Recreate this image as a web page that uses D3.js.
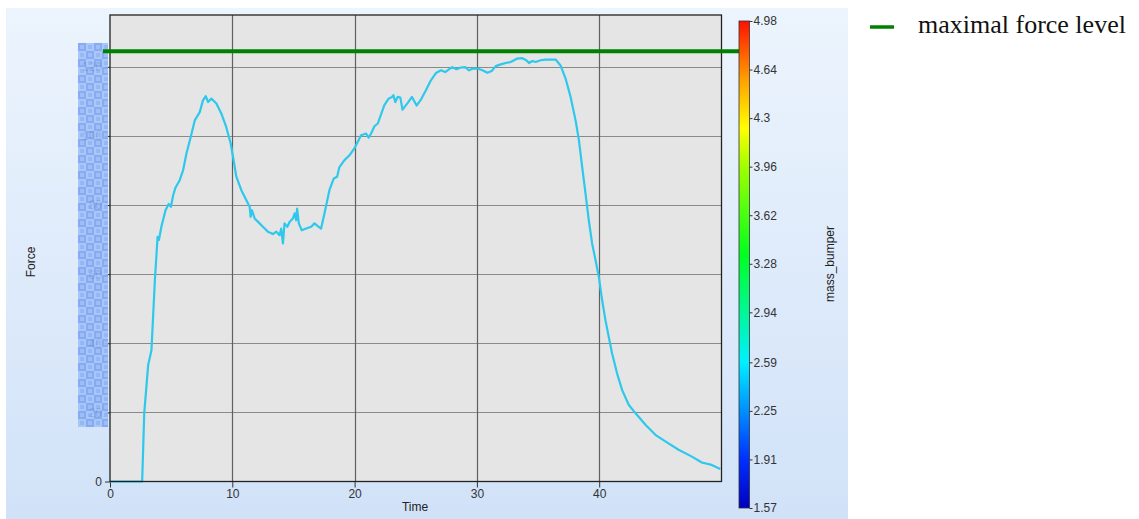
<!DOCTYPE html>
<html><head><meta charset="utf-8">
<script src="https://cdn.jsdelivr.net/npm/d3@7/dist/d3.min.js"></script>
<style>body{margin:0;background:#fff;}svg{display:block;}</style>
</head><body>
<svg id="c" width="1139" height="519"></svg>
<script>
const timeVals = [0,2.63,2.8,3.12,3.39,3.67,3.89,4.0,4.2,4.54,4.8,4.98,5.17,5.36,5.7,5.98,6.25,6.6,6.93,7.34,7.6,7.83,8.02,8.29,8.7,9.1,9.5,9.87,10.06,10.33,10.74,11.15,11.42,11.5,11.61,11.83,12.23,12.5,12.91,13.32,13.6,13.87,14.0,14.14,14.27,14.5,14.68,14.95,15.1,15.22,15.3,15.44,15.68,16.04,16.45,16.72,16.99,17.26,17.54,17.94,18.3,18.57,18.76,19.17,19.58,19.98,20.53,20.94,21.15,21.35,21.62,21.9,22.43,22.78,23.06,23.17,23.33,23.52,23.74,23.92,24.33,24.69,25.07,25.42,25.83,26.24,26.65,27.06,27.41,27.79,28.0,28.33,28.69,29.04,29.36,29.69,30.04,30.45,30.86,31.21,31.54,31.95,32.36,32.77,33.04,33.31,33.71,34.04,34.26,34.53,34.8,35.21,35.62,36.03,36.44,36.84,37.25,37.66,38.07,38.34,38.61,38.88,39.15,39.42,39.7,39.97,40.24,40.51,40.78,41.05,41.46,41.87,42.41,42.96,43.78,44.59,45.41,46.49,47.58,48.39,49.2,49.9];
const forceVals = [0,0,19.8,33.7,38,58.3,70.8,69.9,73.7,78.5,80.3,79.5,82.9,85.1,87.2,90.1,94.9,99.7,104.5,106.9,110.3,111.5,109.8,110.8,109.4,106.5,102.6,97.8,93.9,88.2,84.3,81.4,79.5,76.6,78.5,76.1,74.7,73.7,72.3,71.6,72.3,71.3,73.2,68.9,74.7,73.7,75.1,76.1,77.6,75.6,79,74.7,72.7,73.2,73.7,74.7,73.9,73.2,77.6,84.3,87.7,88.2,91,93,94.4,96.4,100.2,100.7,99.5,100.7,102.8,103.6,108.9,110.8,111.3,111.8,109.8,111.3,111.1,107.6,109.5,111.3,108.8,110.5,113.2,116.1,118.2,119,118.5,119.5,119.9,119.3,119.8,119.9,119,119.5,119.5,119,118.3,118.8,120.2,120.7,121.1,121.4,121.9,122.4,122.5,121.9,121.1,121.7,121.4,121.9,122.1,122.1,122.1,120.4,116.6,111.3,104.5,98.8,91,83.4,75.6,68.9,64.1,59.2,52.5,46.7,41.9,37.1,31.3,26.5,22.2,19.8,16.4,13.5,11.6,9.2,7.2,5.5,4.8,3.6];
const maxForce = 124.5;
const xTicks = [0,10,20,30,40];
const yTicks = [0,20,40,60,80,100,120];
const cbTicks = ["4.98","4.64","4.3","3.96","3.62","3.28","2.94","2.59","2.25","1.91","1.57"];
const cbRange = [1.57,4.98];
const legendLabel = "maximal force level";

const svg = d3.select("#c");
const defs = svg.append("defs");
const bg = defs.append("linearGradient").attr("id","bg").attr("x1",0).attr("y1",0).attr("x2",0).attr("y2",1);
bg.append("stop").attr("offset","0%").attr("stop-color","#ecf4fd");
bg.append("stop").attr("offset","100%").attr("stop-color","#d1e2f8");
svg.append("rect").attr("x",6).attr("y",8).attr("width",842).attr("height",511).attr("fill","url(#bg)");

const L=110,R=721.5,T=15,B=481.5;
const x = d3.scaleLinear().domain([0,50]).range([L,R]);
const y = d3.scaleLinear().domain([0,135]).range([B,T]);

svg.append("rect").attr("x",L).attr("y",T).attr("width",R-L).attr("height",B-T).attr("fill","#e5e5e5");

// grid
svg.append("g").selectAll("line").data(yTicks.filter(d=>d>0)).join("line")
  .attr("x1",L).attr("x2",R).attr("y1",d=>Math.round(y(d))+0.5).attr("y2",d=>Math.round(y(d))+0.5)
  .attr("stroke","#8a8a8a").attr("stroke-width",1.2);
svg.append("g").selectAll("line").data(xTicks.filter(d=>d>0)).join("line")
  .attr("y1",T).attr("y2",B).attr("x1",d=>Math.round(x(d))+0.5).attr("x2",d=>Math.round(x(d))+0.5)
  .attr("stroke","#606060").attr("stroke-width",1.2);

// axes
const xAxis = svg.append("g").attr("transform",`translate(0,${B})`)
  .call(d3.axisBottom(x).tickValues(xTicks).tickSize(6).tickPadding(2).tickFormat(d3.format("d")));
const yAxis = svg.append("g").attr("transform",`translate(${L},0)`)
  .call(d3.axisLeft(y).tickValues(yTicks).tickSize(5).tickPadding(3).tickFormat(d3.format("d")));
[xAxis,yAxis].forEach(a=>{
  a.select(".domain").remove();
  a.selectAll("line").attr("stroke","#333");
  a.selectAll("text").attr("font-family","Liberation Sans, Arial, sans-serif").attr("font-size",12).attr("fill","#333");
});

// checker overlay
const pat = defs.append("pattern").attr("id","chk").attr("patternUnits","userSpaceOnUse").attr("width",16).attr("height",16).attr("x",78).attr("y",43);
pat.append("rect").attr("width",16).attr("height",16).attr("fill","#a4c2f8");
pat.append("rect").attr("width",8).attr("height",8).attr("fill","#7ca4f2");
pat.append("rect").attr("x",8).attr("y",8).attr("width",8).attr("height",8).attr("fill","#7ca4f2");
[[2,2],[10,10]].forEach(p=>{
  pat.append("rect").attr("x",p[0]).attr("y",p[1]).attr("width",4).attr("height",4).attr("fill","#95b8f6");
});
[[10,2],[2,10]].forEach(p=>{
  pat.append("rect").attr("x",p[0]).attr("y",p[1]).attr("width",4).attr("height",4).attr("fill","#8db1f4");
});
svg.append("rect").attr("x",78).attr("y",43).attr("width",30).attr("height",384).attr("fill","url(#chk)").attr("opacity",0.9);

// curve
const data = timeVals.map((t,i)=>[t,forceVals[i]]);
svg.append("path").datum(data).attr("fill","none").attr("stroke","#2ec8ec").attr("stroke-width",2.2)
  .attr("stroke-linejoin","round")
  .attr("d",d3.line().x(d=>x(d[0])).y(d=>y(d[1])));

// frame
svg.append("rect").attr("x",L).attr("y",T).attr("width",R-L).attr("height",B-T).attr("fill","none").attr("stroke","#222").attr("stroke-width",1.3);

// max force line
svg.append("line").attr("x1",103).attr("x2",749).attr("y1",y(maxForce)).attr("y2",y(maxForce))
  .attr("stroke","#008000").attr("stroke-width",4);

// colorbar
const cbT=21,cbB=508,cbX=739,cbW=10.5;
const cg = defs.append("linearGradient").attr("id","cb").attr("x1",0).attr("y1",1).attr("x2",0).attr("y2",0);
[[0,"#0000c0"],[0.1,"#0030ff"],[0.3,"#00f0ff"],[0.52,"#00ff20"],[0.7,"#a0ff00"],[0.78,"#ffff00"],[0.88,"#ffa000"],[1,"#ff1000"]]
  .forEach(s=>cg.append("stop").attr("offset",s[0]).attr("stop-color",s[1]));
svg.append("rect").attr("x",cbX).attr("y",cbT).attr("width",cbW).attr("height",cbB-cbT).attr("fill","url(#cb)").attr("stroke","#333").attr("stroke-width",0.8);
const cy = d3.scaleLinear().domain(cbRange).range([cbB,cbT]);
const cbAxis = svg.append("g").attr("transform",`translate(${cbX+cbW},0)`)
  .call(d3.axisRight(cy).tickValues(cbTicks.map(Number)).tickSize(3).tickPadding(1).tickFormat((d,i)=>cbTicks[i]));
cbAxis.select(".domain").remove();
cbAxis.selectAll("line").attr("stroke","#333");
cbAxis.selectAll("text").attr("font-family","Liberation Sans, Arial, sans-serif").attr("font-size",12).attr("fill","#333");

// axis titles
svg.append("text").attr("x",415).attr("y",511).attr("text-anchor","middle").attr("font-family","Liberation Sans, Arial, sans-serif").attr("font-size",12).attr("fill","#222").text("Time");
svg.append("text").attr("transform","translate(35,262) rotate(-90)").attr("text-anchor","middle").attr("font-family","Liberation Sans, Arial, sans-serif").attr("font-size",12).attr("fill","#222").text("Force");
svg.append("text").attr("transform","translate(834,264) rotate(-90)").attr("text-anchor","middle").attr("font-family","Liberation Sans, Arial, sans-serif").attr("font-size",12).attr("fill","#222").text("mass_bumper");

// legend
svg.append("line").attr("x1",870).attr("x2",894).attr("y1",27).attr("y2",27).attr("stroke","#008000").attr("stroke-width",3.5);
svg.append("text").attr("x",918).attr("y",33).attr("font-family","Liberation Serif, Times New Roman, serif").attr("font-size",26).attr("fill","#111").text(legendLabel);
</script>
</body></html>
